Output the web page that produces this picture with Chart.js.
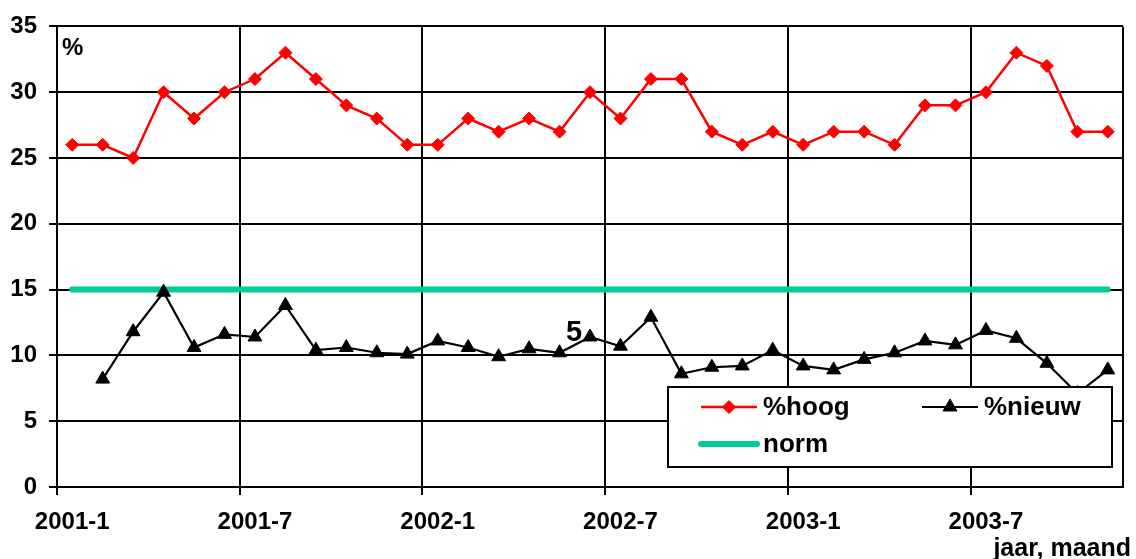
<!DOCTYPE html>
<html>
<head>
<meta charset="utf-8">
<script src="https://cdn.jsdelivr.net/npm/chart.js@4/dist/chart.umd.min.js"></script>
<style>
  body { margin: 0; background: #fff; }
  #wrap { width: 1136px; height: 559px; }
</style>
</head>
<body>
<div id="wrap"><canvas id="chart" width="1136" height="559"></canvas></div>
<script>
// maanden 2001-1 .. 2003-11
const months = [
  '2001-1','2001-2','2001-3','2001-4','2001-5','2001-6','2001-7','2001-8','2001-9','2001-10','2001-11','2001-12',
  '2002-1','2002-2','2002-3','2002-4','2002-5','2002-6','2002-7','2002-8','2002-9','2002-10','2002-11','2002-12',
  '2003-1','2003-2','2003-3','2003-4','2003-5','2003-6','2003-7','2003-8','2003-9','2003-10','2003-11'
];
const hoog = [26,26,25,30,28,30,31,33,31,29,28,26,26,28,27,28,27,30,28,31,31,27,26,27,26,27,27,26,29,29,30,33,32,27,27];
const nieuw = [null,8.2,11.8,14.8,10.6,11.6,11.4,13.8,10.4,10.6,10.2,10.1,11.1,10.6,9.9,10.5,10.2,11.4,10.7,12.9,8.6,9.1,9.2,10.4,9.2,8.9,9.7,10.2,11.1,10.8,11.9,11.3,9.4,7.1,8.9];
const norm = [15,15,15,15,15,15,15,15,15,15,15,15,15,15,15,15,15,15,15,15,15,15,15,15,15,15,15,15,15,15,15,15,15,15,15];
const yTicks = [0,5,10,15,20,25,30,35];
const stray = { text: '5', index: 17 }; // losse label bij %nieuw

const FONT = '"Liberation Sans", Arial, sans-serif';
const RED = '#FF0000';
const TEAL = '#00CC99';

// legenda in een wit kader binnen het plotvlak
const legendBox = {
  id: 'legendBox',
  afterDatasetsDraw(chart) {
    const { ctx, chartArea: a } = chart;
    const x0 = a.right - 455, y0 = a.bottom - 100, w = 444, h = 80;
    ctx.save();
    ctx.fillStyle = '#fff';
    ctx.fillRect(x0, y0, w, h);
    ctx.strokeStyle = '#000';
    ctx.lineWidth = 2;
    ctx.strokeRect(x0, y0, w, h);

    const items = [
      { ds: chart.data.datasets[0], sx: x0 + 33, row: y0 + 20 },
      { ds: chart.data.datasets[1], sx: x0 + 254, row: y0 + 20 },
      { ds: chart.data.datasets[2], sx: x0 + 33, row: y0 + 57 }
    ];
    ctx.font = 'bold 26px ' + FONT;
    ctx.textBaseline = 'middle';
    ctx.textAlign = 'left';
    items.forEach(it => {
      const ds = it.ds;
      ctx.strokeStyle = ds.borderColor;
      ctx.lineWidth = ds.borderWidth;
      ctx.lineCap = ds.borderCapStyle || 'butt';
      ctx.beginPath();
      ctx.moveTo(it.sx, it.row);
      ctx.lineTo(it.sx + 56, it.row);
      ctx.stroke();
      if (ds.pointRadius > 0) {
        ctx.fillStyle = ds.pointBackgroundColor;
        ctx.strokeStyle = ds.pointBorderColor;
        ctx.lineWidth = 1;
        Chart.helpers.drawPoint(ctx, { pointStyle: ds.pointStyle, radius: ds.pointRadius, rotation: 0, borderWidth: 1 }, it.sx + 28, it.row);
      }
      ctx.fillStyle = '#000';
      ctx.fillText(ds.label, it.sx + 62, it.row + 1);
    });
    ctx.restore();
  }
};

// losse teksten: %, "5" en aslabel
const extraText = {
  id: 'extraText',
  afterDraw(chart) {
    const { ctx, chartArea: a } = chart;
    ctx.save();
    ctx.fillStyle = '#000';
    ctx.textBaseline = 'alphabetic';
    ctx.font = 'bold 24px ' + FONT;
    ctx.textAlign = 'left';
    ctx.fillText('%', a.left + 5, a.top + 29);

    const pt = chart.getDatasetMeta(1).data[stray.index];
    ctx.font = 'bold 29px ' + FONT;
    ctx.textAlign = 'center';
    ctx.fillText(stray.text, pt.x - 16, pt.y + 4);

    ctx.font = 'bold 25px ' + FONT;
    ctx.textAlign = 'right';
    ctx.fillText('jaar, maand', 1131, 556);

    // rechterrand van het plotvlak
    ctx.strokeStyle = '#000';
    ctx.lineWidth = 2;
    ctx.beginPath();
    ctx.moveTo(a.right, a.top);
    ctx.lineTo(a.right, a.bottom);
    ctx.stroke();
    ctx.restore();
  }
};

const ctx = document.getElementById('chart').getContext('2d');
new Chart(ctx, {
  type: 'line',
  data: {
    labels: months,
    datasets: [{
      label: '%hoog',
      data: hoog,
      borderColor: RED,
      backgroundColor: RED,
      borderWidth: 2.5,
      pointStyle: 'rectRot',
      pointRadius: 6.5,
      pointBackgroundColor: RED,
      pointBorderColor: RED,
      pointBorderWidth: 1,
      tension: 0,
      order: 1
    }, {
      label: '%nieuw',
      data: nieuw,
      borderColor: '#000',
      backgroundColor: '#000',
      borderWidth: 2.2,
      pointStyle: 'triangle',
      pointRadius: 8,
      pointBackgroundColor: '#000',
      pointBorderColor: '#000',
      pointBorderWidth: 1,
      tension: 0,
      order: 2
    }, {
      label: 'norm',
      data: norm,
      borderColor: TEAL,
      backgroundColor: TEAL,
      borderWidth: 6,
      borderCapStyle: 'round',
      pointRadius: 0,
      tension: 0,
      order: 3
    }]
  },
  options: {
    responsive: false,
    animation: false,
    layout: { padding: { left: 0, right: 13, top: 22, bottom: 0 } },
    plugins: {
      legend: { display: false },
      tooltip: { enabled: false }
    },
    scales: {
      x: {
        type: 'category',
        offset: true,
        grid: {
          offset: true,
          lineWidth: 2,
          tickLength: 8,
          color: c => (c.type === 'tick' && c.index % 6 === 0) ? '#000' : 'rgba(0,0,0,0)',
          tickColor: c => (c.type === 'tick' && c.index % 6 === 0) ? '#000' : 'rgba(0,0,0,0)'
        },
        border: { display: true, color: '#000', width: 2 },
        ticks: {
          autoSkip: false,
          maxRotation: 0,
          minRotation: 0,
          padding: 13,
          color: '#000',
          font: { family: FONT, size: 24, weight: 'bold' },
          callback: (v, i) => i % 6 === 0 ? months[i] : ''
        },
        afterFit: s => { s.height = 72; }
      },
      y: {
        min: 0,
        max: 35,
        afterBuildTicks: s => { s.ticks = yTicks.map(v => ({ value: v })); },
        grid: { color: '#000', lineWidth: 2, tickLength: 8, tickColor: '#000' },
        border: { display: true, color: '#000', width: 2 },
        ticks: {
          padding: 12,
          color: '#000',
          font: { family: FONT, size: 24, weight: 'bold' }
        },
        afterFit: s => { s.width = 57; }
      }
    }
  },
  plugins: [legendBox, extraText]
});
</script>
</body>
</html>
